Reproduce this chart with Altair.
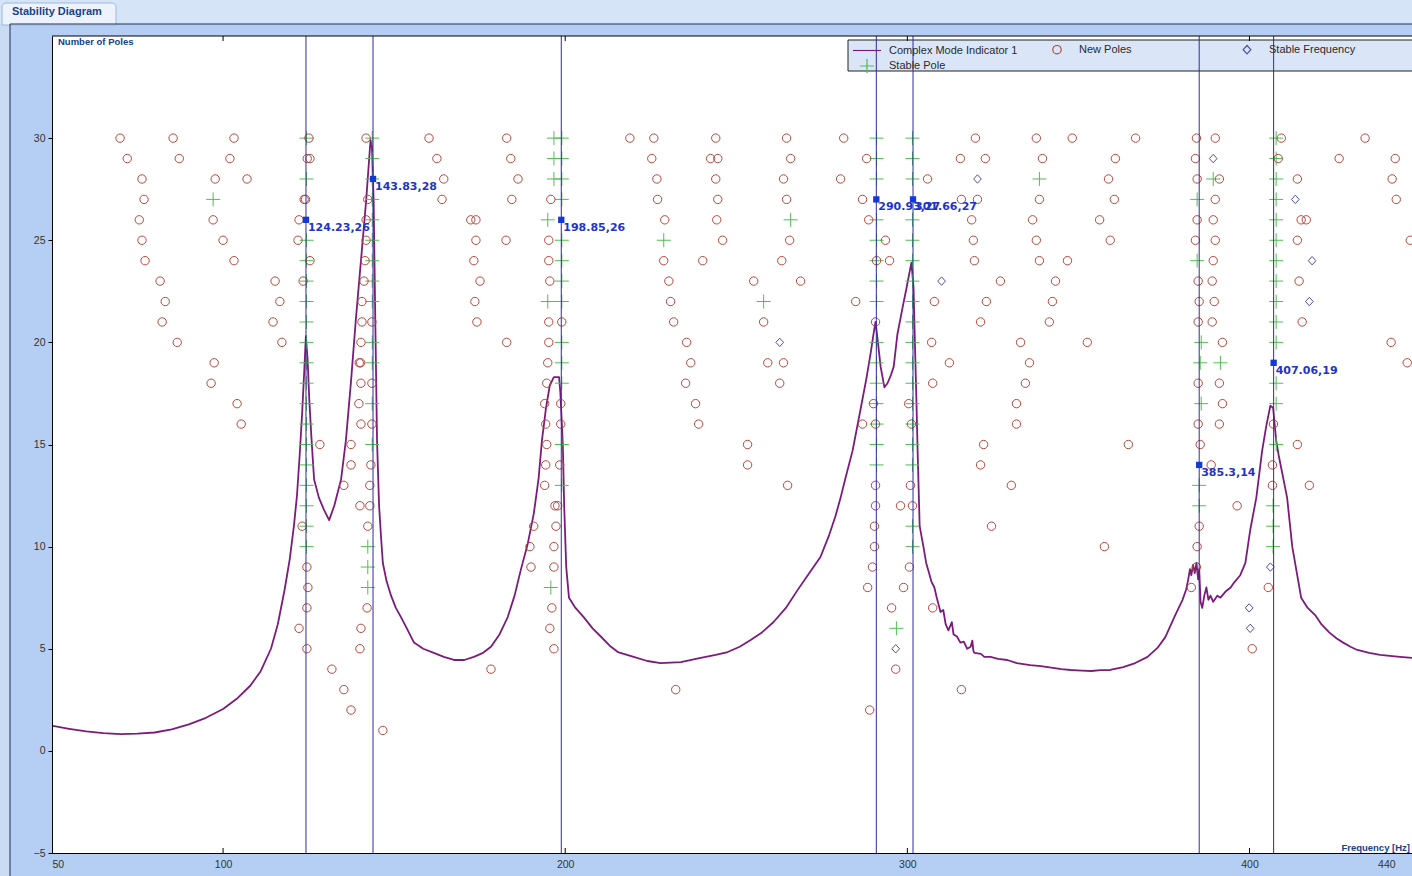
import altair as alt
import pandas as pd

# ---------------- data ----------------
# Complex Mode Indicator 1 (frequency [Hz], value on the pole axis)
cmif_freq = [50.3, 55.0, 60.0, 65.0, 70.0, 75.0, 80.0, 85.0, 90.0, 95.0, 100.0, 104.0, 108.0, 111.0,
             114.0, 116.0, 118.0, 119.5, 120.7, 121.6, 122.4, 123.1, 123.7, 124.2, 124.7, 125.2,
             125.8, 126.6, 128.0, 129.5, 131.0, 132.5, 134.5, 135.9, 137.4, 138.8, 140.3, 141.8,
             143.1, 143.5, 144.0, 144.5, 145.0, 145.6, 146.2, 146.7, 147.8, 149.1, 150.5, 152.0,
             154.0, 155.8, 158.5, 161.6, 164.5, 167.5, 170.5, 173.3, 176.0, 178.3, 180.8, 183.2,
             185.2, 187.0, 189.0, 190.8, 192.2, 193.2, 194.4, 195.5, 196.7, 198.2, 198.6, 199.3,
             199.7, 200.3, 201.1, 203.0, 205.4, 208.0, 210.4, 213.0, 215.4, 220.0, 224.0, 227.9,
             233.8, 239.6, 244.0, 247.5, 251.0, 254.2, 257.5, 260.9, 264.5, 267.9, 271.3, 274.6,
             277.0, 279.0, 280.5, 281.9, 284.0, 286.3, 288.0, 289.3, 290.2, 290.7, 291.4, 292.2,
             293.3, 294.2, 295.2, 296.0, 297.1, 298.6, 299.8, 300.6, 301.2, 301.8, 302.1, 302.6,
             303.0, 303.6, 304.7, 305.5, 306.2, 307.0, 307.9, 308.6, 309.7, 310.5, 311.2, 312.0,
             313.0, 313.5, 314.5, 315.5, 316.5, 317.5, 318.5, 319.0, 319.3, 319.6, 321.5, 322.5,
             324.3, 326.5, 329.2, 332.0, 335.9, 339.0, 342.6, 345.0, 347.7, 351.0, 353.8, 356.5,
             359.3, 363.1, 366.6, 370.2, 373.1, 375.4, 378.3, 380.4, 381.5, 382.1, 382.6, 383.0,
             383.5, 384.0, 384.5, 385.0, 385.3, 385.7, 386.2, 386.8, 387.4, 388.0, 388.6, 389.4,
             390.6, 391.5, 393.0, 394.5, 395.3, 397.3, 398.8, 400.2, 402.0, 403.7, 404.9, 406.1,
             406.9, 407.8, 408.5, 411.0, 412.5, 415.1, 417.0, 419.2, 421.0, 423.3, 425.5, 427.4,
             429.5, 431.5, 435.0, 438.2, 441.0, 444.0, 447.5]
cmif_value = [1.22, 1.08, 0.95, 0.87, 0.82, 0.84, 0.90, 1.05, 1.30, 1.62, 2.05, 2.55, 3.2, 3.9,
              5.0, 6.2, 7.9, 9.4, 11.0, 12.5, 14.5, 16.5, 18.5, 20.3, 19.2, 17.2,
              15.4, 13.3, 12.4, 11.8, 11.3, 12.0, 13.3, 15.2, 18.1, 21.1, 24.0, 26.9,
              29.9, 29.6, 27.0, 21.0, 15.2, 12.0, 10.4, 9.2, 8.3, 7.6, 7.0, 6.55,
              5.9, 5.3, 5.0, 4.8, 4.6, 4.45, 4.45, 4.6, 4.8, 5.1, 5.7, 6.55,
              7.6, 8.85, 10.1, 11.6, 13.3, 15.2, 16.8, 17.9, 18.3, 18.3, 17.5, 15.0,
              12.0, 9.0, 7.5, 7.0, 6.55, 6.0, 5.6, 5.15, 4.84, 4.6, 4.4, 4.3,
              4.35, 4.55, 4.7, 4.84, 5.1, 5.43, 5.8, 6.31, 7.0, 7.87, 8.7, 9.49,
              10.5, 11.5, 12.4, 13.35, 14.7, 16.7, 18.2, 19.5, 20.5, 21.0, 20.0, 18.8,
              17.8, 18.0, 18.4, 18.8, 20.4, 21.7, 22.7, 23.4, 23.9, 22.7, 20.7, 17.5,
              14.7, 11.0, 10.0, 9.2, 8.8, 8.3, 8.0, 7.5, 6.8, 6.9, 6.2, 5.9,
              6.3, 5.7, 5.6, 5.3, 5.35, 5.0, 5.1, 5.4, 4.9, 4.8, 4.75, 4.6,
              4.6, 4.5, 4.45, 4.3, 4.2, 4.15, 4.06, 4.0, 3.96, 3.93, 3.91, 3.95,
              3.96, 4.1, 4.3, 4.6, 5.04, 5.57, 6.65, 7.38, 7.9, 8.4, 8.9, 8.6,
              9.1, 8.7, 9.2, 8.4, 8.9, 7.3, 7.0, 7.6, 8.0, 7.4, 7.6, 7.3,
              7.6, 7.5, 7.8, 8.0, 8.2, 8.6, 9.2, 10.8, 12.4, 14.7, 15.9, 16.9,
              16.8, 15.2, 14.5, 12.4, 10.0, 7.5, 7.0, 6.65, 6.2, 5.8, 5.5, 5.3,
              5.1, 4.94, 4.8, 4.7, 4.65, 4.6, 4.55]

# New Poles (red circles): frequency and model order
new_pole_freq = [69.9, 72.0, 76.3, 76.9, 75.5, 76.3, 77.2, 81.6, 83.1, 82.2, 86.6,
                 85.4, 87.2, 97.7, 97.1, 100.0, 103.2, 97.4, 96.5, 104.1, 105.3,
                 103.2, 102.0, 107.0, 115.2, 116.6, 114.6, 117.2,
                 125.1, 124.6, 125.4, 123.7, 124.1, 122.2, 121.9, 125.4, 123.4, 128.3, 123.1, 124.5,
                 124.8, 124.5, 122.2, 124.5,
                 141.8, 142.3, 141.8, 141.8, 141.5, 141.2, 140.6, 140.6, 143.5, 140.3, 139.8, 140.2,
                 140.3, 143.5, 139.7, 140.3, 143.5, 137.4, 137.4, 143.2, 135.3, 142.9, 140.0, 142.9,
                 142.3, 142.1, 140.3, 140.0, 131.8, 135.3, 137.4, 146.7,
                 160.2, 162.5, 164.5, 164.0, 182.9, 184.1, 186.2, 184.4, 172.4, 173.9, 173.9, 173.3,
                 175.1, 173.6, 174.2, 182.7, 182.9, 178.3,
                 195.8, 195.2, 195.2, 195.5, 195.2, 199.0, 195.2, 194.9, 194.6, 194.0, 198.7, 194.3,
                 198.7, 194.6, 194.3, 198.4, 194.0, 197.0, 197.8, 190.8, 197.3, 189.7, 196.7, 190.0,
                 196.7, 196.1, 195.5, 196.7, 232.3,
                 218.9, 225.9, 225.3, 226.8, 227.0, 229.1, 228.8, 230.3, 230.8, 231.7, 235.5, 236.7,
                 235.2, 238.1, 239.0, 244.0, 242.5, 244.6, 244.0, 244.6, 244.3, 246.0, 240.2,
                 264.7, 265.9, 263.8, 264.7, 265.6, 263.3, 255.1, 268.8, 258.0, 259.2, 263.8, 262.7,
                 253.3, 253.3, 265.0,
                 281.4, 288.1, 280.5, 286.9, 288.7, 293.6, 291.0, 294.8, 284.9, 290.7, 290.1, 286.9,
                 290.7, 290.7, 290.7, 290.4, 290.4, 289.8, 288.4, 289.0, 295.4, 296.6,
                 305.9, 300.4, 301.2, 300.9, 298.0, 301.5, 300.6, 298.9, 307.4, 315.8,
                 319.9, 315.5, 322.8, 315.8, 320.5, 318.8, 319.3, 319.6, 307.9, 323.1, 327.2, 321.4,
                 307.1, 312.3, 307.4, 333.1, 335.7, 334.5, 331.9, 331.9, 322.3, 321.4, 330.4, 324.6,
                 337.7, 348.2, 339.5, 338.6, 336.6, 337.7, 338.6, 346.8, 343.3, 342.4, 341.5, 352.6,
                 356.2, 357.6, 364.6, 366.7, 360.8, 358.8, 360.5, 359.3,
                 384.5, 390.0, 384.2, 384.7, 391.2, 390.0, 384.7, 389.4, 384.2, 390.0, 389.4, 385.0,
                 389.1, 385.3, 389.7, 385.0, 389.1, 392.1, 385.0, 391.2, 392.1, 385.0, 391.2, 385.6,
                 388.8, 385.3, 384.7, 384.5, 383.0, 396.4, 400.8,
                 409.3, 408.4, 414.0, 415.1, 416.6, 414.0, 414.5, 415.4, 407.0, 414.0, 406.7, 406.7,
                 417.5, 405.5,
                 433.8, 426.2, 442.6, 441.7, 442.9, 447.0, 441.4, 446.1]
new_pole_order = [30, 29, 28, 27, 26, 25, 24, 23, 22, 21, 20,
                  30, 29, 28, 26, 25, 24, 19, 18, 17, 16,
                  30, 29, 28, 23, 22, 21, 20,
                  30, 29, 29, 27, 27, 26, 25, 24, 23, 15, 11, 9,
                  8, 7, 6, 5,
                  30, 27, 26, 25, 24, 23, 22, 21, 21, 20, 19, 19,
                  18, 18, 17, 16, 16, 15, 14, 14, 13, 13, 12, 12,
                  11, 7, 6, 5, 4, 3, 2, 1,
                  30, 29, 28, 27, 30, 29, 28, 27, 26, 26, 25, 24,
                  23, 22, 21, 25, 20, 4,
                  27, 25, 24, 23, 21, 21, 20, 19, 18, 17, 17, 16,
                  16, 15, 14, 14, 13, 12, 12, 11, 11, 10, 10, 9,
                  9, 7, 6, 5, 3,
                  30, 30, 29, 28, 27, 26, 24, 23, 22, 21, 20, 19,
                  18, 17, 16, 30, 29, 29, 28, 27, 26, 25, 24,
                  30, 29, 28, 27, 25, 24, 23, 23, 21, 19, 19, 18,
                  15, 14, 13,
                  30, 29, 28, 27, 26, 25, 24, 24, 22, 21, 17, 16,
                  16, 13, 12, 11, 10, 9, 8, 2, 7, 4,
                  28, 17, 16, 13, 12, 12, 9, 8, 7, 3,
                  30, 29, 29, 27, 27, 26, 25, 24, 22, 22, 23, 21,
                  20, 19, 18, 20, 19, 18, 17, 16, 15, 14, 13, 11,
                  30, 30, 29, 27, 26, 25, 24, 24, 23, 22, 21, 20,
                  26, 10, 15, 30, 29, 28, 27, 25,
                  30, 30, 29, 28, 28, 27, 26, 26, 25, 25, 24, 23,
                  23, 22, 22, 21, 21, 20, 18, 18, 17, 16, 16, 15,
                  14, 11, 10, 9, 8, 12, 5,
                  30, 29, 28, 26, 26, 25, 23, 21, 16, 15, 14, 13,
                  13, 8,
                  30, 29, 29, 28, 27, 25, 20, 19]

# Stable Pole (green crosses): frequency -> model orders where it appears
stable_pole_columns = {
    97.1: [27],
    124.4: [30, 28, 25, 24, 23, 22, 21, 20, 19, 18, 17, 16, 15, 14, 13, 12, 11, 10],
    143.6: [30, 29, 28, 27, 26, 25, 24, 23, 22, 20, 19, 17, 15],
    142.3: [10, 9, 8],
    196.7: [30, 29, 28],
    199.0: [30, 29, 28, 27, 25, 24, 23, 22, 20, 19, 18, 15, 13],
    194.9: [26, 22],
    195.8: [8],
    228.8: [25],
    258.0: [22],
    265.9: [26],
    291.0: [30, 29, 28, 26, 25, 24, 23, 22, 20, 19, 18, 17, 16, 15, 14],
    296.8: [6],
    301.5: [30, 29, 28, 26, 25, 24, 23, 22, 21, 20, 19, 18, 17, 16, 15, 14, 11, 10],
    338.6: [28],
    384.7: [27, 24],
    385.9: [20, 17],
    385.6: [19],
    385.3: [13, 12],
    389.4: [28],
    391.5: [19],
    407.8: [30, 29, 28, 27, 26, 25, 24, 23, 22, 21, 20, 18, 17, 15],
    406.9: [12, 11, 10],
}

# Stable Frequency (blue diamonds)
stable_freq_freq = [262.7, 296.6, 310.0, 320.5, 389.4, 413.4, 418.3, 417.5, 406.1, 399.9, 400.2]
stable_freq_order = [20, 5, 23, 28, 29, 27, 24, 22, 9, 7, 6]

# Selected modes (vertical lines + labelled markers)
sel_freq = [124.23, 143.83, 198.85, 290.93, 301.66, 385.3, 407.06]
sel_order = [26, 28, 26, 27, 27, 14, 19]

x_tick_values = [50, 100, 200, 300, 400, 440]
x_inner_ticks = [100, 200, 300, 400]
y_tick_values = [-5, 0, 5, 10, 15, 20, 25, 30]

series_names = ["Complex Mode Indicator 1", "New Poles", "Stable Frequency", "Stable Pole"]

# ---------------- tables ----------------
cmif_df = pd.DataFrame({"freq": cmif_freq, "value": cmif_value, "series": series_names[0]})

sp_f, sp_o = [], []
for f, rows in stable_pole_columns.items():
    for r in rows:
        sp_f.append(f)
        sp_o.append(r)

poles_df = pd.concat([
    pd.DataFrame({"freq": sp_f, "order": sp_o, "series": "Stable Pole"}),
    pd.DataFrame({"freq": new_pole_freq, "order": new_pole_order, "series": "New Poles"}),
    pd.DataFrame({"freq": stable_freq_freq, "order": stable_freq_order, "series": "Stable Frequency"}),
], ignore_index=True)
poles_df["seq"] = range(len(poles_df))

sel_df = pd.DataFrame({"freq": sel_freq, "order": sel_order})
sel_df["label"] = [f"{f:g},{o}" for f, o in zip(sel_freq, sel_order)]

ticks_df = pd.DataFrame({"freq": x_inner_ticks})
one = pd.DataFrame({"k": [0]})

# ---------------- styling ----------------
W, H = 1360, 817
CIRCLE = "M0.6,0A0.6,0.6,0,1,1,-0.6,0A0.6,0.6,0,1,1,0.6,0Z"
DIAMOND = "M0,-0.6L0.55,0L0,0.6L-0.55,0Z"
CROSS = "M-1,0H1M0,-1V1"
LINESYM = "M-2,0H2"
series_colors = ["#7b1c7d", "#b5473d", "#4b4fa6", "#52bd52"]
series_shapes = [LINESYM, CIRCLE, DIAMOND, CROSS]
SANS = "Liberation Sans"

x_scale = alt.Scale(domain=[50, 447.5], nice=False, zero=False)
y_scale = alt.Scale(domain=[-5, 35], nice=False, zero=False)

x_axis = alt.Axis(values=x_tick_values, title=None, grid=False, ticks=False, domainColor="#000",
                  domainWidth=1, labelFont=SANS, labelFontSize=10.5, labelColor="#333",
                  labelPadding=6, labelFlush=True)
y_axis = alt.Axis(values=y_tick_values, title=None, grid=False, tickSize=4, tickColor="#000",
                  domainColor="#000", domainWidth=1, labelFont=SANS, labelFontSize=10.5,
                  labelColor="#333", labelPadding=3)

legend = alt.Legend(orient="none", legendX=807, legendY=4, columns=3, gridAlign="all", title=None,
                    direction="horizontal", values=series_names,
                    labelFont=SANS, labelFontSize=11, labelColor="#2a2a2a", symbolSize=196,
                    symbolStrokeWidth=1.2, labelOffset=14, columnPadding=31, rowPadding=-7, padding=0,
                    symbolFillColor="transparent")
color = alt.Color("series:N", scale=alt.Scale(domain=series_names, range=series_colors), legend=legend)
shape = alt.Shape("series:N", scale=alt.Scale(domain=series_names, range=series_shapes), legend=legend)

X = alt.X("freq:Q", scale=x_scale, axis=x_axis)

# ---------------- decorations (frame, tab, legend box) ----------------
def box(x1, x2, y1, y2, **kw):
    return alt.Chart(one).mark_rect(**kw).encode(
        x=alt.value(x1), x2=alt.value(x2), y=alt.value(y1), y2=alt.value(y2))

top_strip = box(-52, W, -36, -12, color="#d5e4f7")
left_strip = box(-52, -42, -12, H + 23, color="#cadcf4")
tab = box(-50, 64, -33, -11, color="#edf3fc", stroke="#9bb8df", strokeWidth=1,
          cornerRadiusTopLeft=4, cornerRadiusTopRight=4)
panel_top = alt.Chart(one).mark_rule(color="#1e2f55", strokeWidth=1).encode(
    x=alt.value(-42), x2=alt.value(W), y=alt.value(-12))
panel_left = alt.Chart(one).mark_rule(color="#1e2f55", strokeWidth=1).encode(
    x=alt.value(-42), y=alt.value(-12), y2=alt.value(H + 23))
tab_text = alt.Chart(one).mark_text(text="Stability Diagram", align="left", baseline="middle",
                                    font=SANS, fontWeight="bold", fontSize=11, color="#15428b").encode(
    x=alt.value(-40), y=alt.value(-24))
legend_box = box(796, W + 2, 4, 35, color="#dae6f7", stroke="#222", strokeWidth=1)
plot_top = alt.Chart(one).mark_rule(color="#000", strokeWidth=1).encode(
    x=alt.value(0), x2=alt.value(W), y=alt.value(0))
y_title = alt.Chart(one).mark_text(text="Number of Poles", align="left", baseline="middle",
                                   font=SANS, fontWeight="bold", fontSize=9.5, color="#15428b").encode(
    x=alt.value(6), y=alt.value(6))
x_title = alt.Chart(one).mark_text(text="Frequency [Hz]", align="right", baseline="middle",
                                   font=SANS, fontWeight="bold", fontSize=9.5, color="#15428b").encode(
    x=alt.value(W - 2), y=alt.value(H - 5))

# ---------------- data layers ----------------
cmif_line = alt.Chart(cmif_df).mark_line(strokeWidth=1.8, strokeJoin="round").encode(
    x=X, y=alt.Y("value:Q", scale=y_scale, axis=y_axis), color=color)

poles = alt.Chart(poles_df).mark_point(filled=False, size=196, strokeWidth=1, opacity=1).encode(
    x=X, y=alt.Y("order:Q", scale=y_scale, axis=y_axis), color=color, shape=shape,
    order=alt.Order("seq:Q"))

mode_lines = alt.Chart(sel_df).mark_rule(color="#2d2d9e", strokeWidth=1).encode(x=X)
mode_marks = alt.Chart(sel_df).mark_square(size=40, color="#1238d6", opacity=1).encode(
    x=X, y=alt.Y("order:Q", scale=y_scale, axis=y_axis))
mode_labels = alt.Chart(sel_df).mark_text(align="left", baseline="middle", dx=2, dy=8,
                                          font="DejaVu Sans", fontWeight="bold", fontSize=11,
                                          color="#1f34c2").encode(
    x=X, y=alt.Y("order:Q", scale=y_scale, axis=y_axis), text="label:N")

ticks_bottom = alt.Chart(ticks_df).mark_rule(color="#000").encode(x=X, y=alt.value(H - 5), y2=alt.value(H))
ticks_top = alt.Chart(ticks_df).mark_rule(color="#000").encode(x=X, y=alt.value(0), y2=alt.value(5))

chart = alt.layer(
    top_strip, left_strip, tab, panel_top, panel_left, tab_text,
    legend_box, cmif_line, poles, mode_lines, mode_marks, mode_labels,
    ticks_bottom, ticks_top, plot_top, y_title, x_title,
).properties(
    width=W, height=H,
    autosize=alt.AutoSizeParams(type="none"),
    padding={"left": 52, "top": 36, "right": 0, "bottom": 23},
    background="#b4cff3",
).configure_view(fill="white", stroke=None)

chart.save("out.html", embed_options={"renderer": "svg", "actions": False})
